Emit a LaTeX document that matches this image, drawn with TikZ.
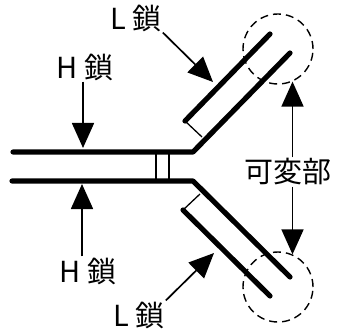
\documentclass[tikz,border=0pt]{standalone}
\usepackage{fontspec}
\usepackage{tikz}
\newfontfamily\jfont{Noto Sans CJK JP}
\usetikzlibrary{arrows.meta}
\tikzset{
chain/.style={line width=5.2pt, line cap=round, line join=round},
bond/.style={line width=1.3pt},
pointer/.style={line width=1.7pt, -{Triangle[width=22pt,length=25pt]}},
label/.style={font=\jfont\fontsize{29}{32}\selectfont, inner sep=1pt},
region/.style={draw, circle, line width=1.4pt, minimum size=70pt, dash pattern=on 8pt off 5pt}}

\begin{document}
\begin{tikzpicture}[x=1pt, y=-1pt]
        \useasboundingbox (0,0) rectangle (337,331);

                    % heavy chains and the hinge
                    \coordinate (HT) at (13,152);
                    \coordinate (HB) at (12,181);
                    \coordinate (KT) at (193,152);
                    \coordinate (KB) at (193,181);
                    \coordinate (UO) at (290,53);
                    \coordinate (LO) at (290,277);

                    % light chains
                    \coordinate (UIa) at (185,121);
                    \coordinate (UIb) at (270,34);
                    \coordinate (UF) at (202,137);
                    \coordinate (LIa) at (183,210);
                    \coordinate (LIb) at (270,296);
                    \coordinate (LF) at (200,194);

                    \draw[chain] (HT) -- (KT) -- (UO);
                    \draw[chain] (HB) -- (KB) -- (LO);
                    \draw[chain] (UIa) -- (UIb);
                    \draw[chain] (LIa) -- (LIb);
                    \draw[bond] (UIa) -- (UF);
                    \draw[bond] (LIa) -- (LF);
                    \draw[bond] (156,152) -- (156,181);
                    \draw[bond] (169,152) -- (169,181);

                    % variable regions
                    \node[region] (VT) at (278,49) {};
                    \node[region] (VB) at (278,287) {};

                    % labels
                    \node[label] (HL1) at (85,67) {H 鎖};
                    \node[label] (HL2) at (88,271) {H 鎖};
                    \node[label] (LL1) at (136,18) {L 鎖};
                    \node[label] (LL2) at (139,315) {L 鎖};
                    \node[label] (VL) at (288,172) {可変部};

                    \coordinate (HT1) at (83,148);
                    \coordinate (HB1) at (82,184);
                    \coordinate (LT1) at (213,82);
                    \coordinate (LB1) at (214,253);

                    \draw[pointer] (HL1.south -| HT1) -- (HT1);
                    \draw[pointer] (HL2.north -| HB1) -- (HB1);
                    \draw[pointer] (LL1.south east) -- (LT1);
                    \draw[pointer] (LL2.north east) -- (LB1);
                    \draw[pointer] (VL.north -| VT.-66) -- (VT.-66);
                    \draw[pointer] (VL.south -| VB.66) -- (VB.66);

                \end{tikzpicture}
\end{document}
